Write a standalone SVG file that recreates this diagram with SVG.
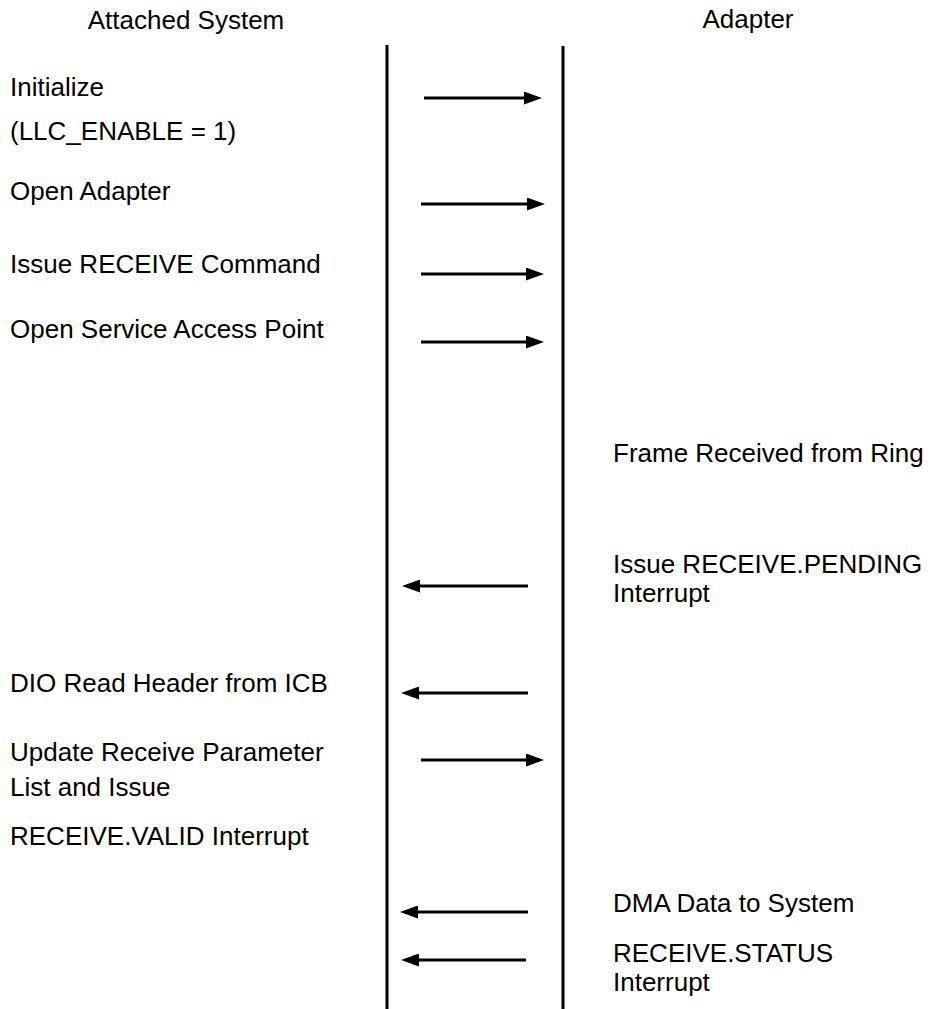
<svg xmlns="http://www.w3.org/2000/svg" width="933" height="1009" viewBox="0 0 933 1009">
<style>
text{font-family:"Liberation Sans",Arial,sans-serif;font-size:26px;fill:#000}
.life{stroke:#000;stroke-width:3;fill:none}
.msg{stroke:#000;stroke-width:3;fill:none;marker-end:url(#ah)}
</style>
<defs>
<marker id="ah" viewBox="0 0 18 13" refX="6" refY="6.5" markerWidth="18" markerHeight="13" markerUnits="userSpaceOnUse" orient="auto">
<path d="M0,0 L18,6.5 L0,13 z" fill="#000"/>
</marker>
</defs>
<rect width="933" height="1009" fill="#fff"/>
<g id="attached-system">
<text x="186" y="29" text-anchor="middle">Attached System</text>
<line class="life" x1="387" y1="45" x2="387" y2="1009"/>
</g>
<g id="adapter">
<text x="748" y="28" text-anchor="middle">Adapter</text>
<line class="life" x1="563" y1="46" x2="563" y2="1009"/>
</g>
<g id="labels-left">
<text x="10" y="96">Initialize</text>
<text x="10" y="140">(LLC_ENABLE = 1)</text>
<text x="10" y="200">Open Adapter</text>
<text x="10" y="273">Issue RECEIVE Command</text>
<text x="10" y="338">Open Service Access Point</text>
<text x="10" y="692">DIO Read Header from ICB</text>
<text x="10" y="761">Update Receive Parameter</text>
<text x="10" y="796">List and Issue</text>
<text x="10" y="845">RECEIVE.VALID Interrupt</text>
</g>
<g id="labels-right">
<text x="613" y="462">Frame Received from Ring</text>
<text x="613" y="573">Issue RECEIVE.PENDING</text>
<text x="613" y="602">Interrupt</text>
<text x="613" y="912">DMA Data to System</text>
<text x="613" y="962">RECEIVE.STATUS</text>
<text x="613" y="991">Interrupt</text>
</g>
<g id="connectors">
<line class="msg" x1="424" y1="98" x2="530" y2="98"/>
<line class="msg" x1="421" y1="204" x2="533" y2="204"/>
<line class="msg" x1="421" y1="274" x2="532" y2="274"/>
<line class="msg" x1="421" y1="342" x2="532" y2="342"/>
<line class="msg" x1="528" y1="586" x2="414" y2="586"/>
<line class="msg" x1="528" y1="693" x2="413" y2="693"/>
<line class="msg" x1="421" y1="760" x2="532" y2="760"/>
<line class="msg" x1="528" y1="912" x2="412" y2="912"/>
<line class="msg" x1="526" y1="960" x2="413" y2="960"/>
</g>
</svg>
